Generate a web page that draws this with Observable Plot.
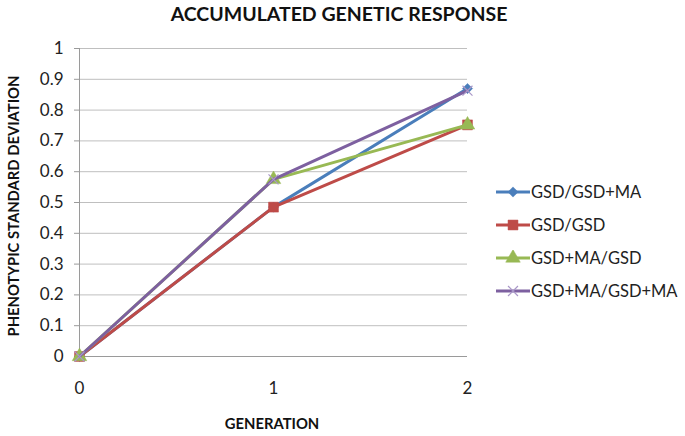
<!DOCTYPE html>
<html><head><meta charset="utf-8">
<script src="https://cdn.jsdelivr.net/npm/d3@7"></script>
<script src="https://cdn.jsdelivr.net/npm/@observablehq/plot@0.6"></script>
<style>
body{margin:0;background:#fff;font-family:Lato,"Open Sans",sans-serif;}
#wrap{position:relative;width:685px;height:436px;overflow:hidden;}
#chart{position:absolute;left:0;top:0;}
#chart svg text{font-size:17px;}
.title{position:absolute;left:0;width:678px;top:2px;text-align:center;font-weight:bold;font-size:19.5px;color:#111;}
.ylab{position:absolute;left:13px;top:206px;transform:translate(-50%,-50%) rotate(-90deg);white-space:nowrap;font-weight:bold;font-size:14.8px;color:#111;}
.xlab{position:absolute;left:272px;top:423px;transform:translate(-50%,-50%);white-space:nowrap;font-weight:bold;font-size:14.8px;color:#111;}
.legend{position:absolute;left:494px;top:0;}
.legend .row{position:absolute;left:0;display:flex;align-items:center;white-space:nowrap;font-size:16.5px;color:#222;transform:translateY(-50%);}
.legend svg{display:block;margin-right:1px;}
</style></head><body>
<div id="wrap">
  <div id="chart"></div>
  <div class="title">ACCUMULATED GENETIC RESPONSE</div>
  <div class="ylab">PHENOTYPIC STANDARD DEVIATION</div>
  <div class="xlab">GENERATION</div>
  <div class="legend" id="legend"></div>
</div>
<script>
// ---- data ----
const generations = [0, 1, 2];
const seriesNames = ["GSD/GSD+MA", "GSD/GSD", "GSD+MA/GSD", "GSD+MA/GSD+MA"];
const gsdGsdMa   = [0, 0.485, 0.870];
const gsdGsd     = [0, 0.485, 0.752];
const gsdMaGsd   = [0, 0.575, 0.752];
const gsdMaGsdMa = [0, 0.575, 0.863];
const yTicks = [0, 0.1, 0.2, 0.3, 0.4, 0.5, 0.6, 0.7, 0.8, 0.9, 1];
const xTicks = [0, 1, 2];

// ---- styles ----
const lineColors   = ["#4A7EBB", "#BE4B48", "#98B954", "#7D60A0"];
const markerFill   = ["#4A7EBB", "#BE4B48", "#98B954", "none"];
const markerStroke = ["#4A7EBB", "#BE4B48", "#98B954", "#A997C8"];
const symbols      = ["diamond2", "square", "triangle", "times"];
const radii        = [4.6, 5.6, 5.4, 4.6];

const valuesBySeries = [gsdGsdMa, gsdGsd, gsdMaGsd, gsdMaGsdMa];
const series = seriesNames.map((name, i) =>
  generations.map((g, j) => ({series: name, generation: g, value: valuesBySeries[i][j]})));

const marks = [
  Plot.gridY(yTicks, {stroke: "#bfbfbf", strokeOpacity: 1}),
  Plot.ruleX([0], {stroke: "#9a9a9a"}),
  Plot.ruleY([0], {stroke: "#9a9a9a"}),
  Plot.axisY(yTicks, {tickSize: 5, tickPadding: 11, stroke: "#9a9a9a", fill: "#222", tickFormat: d => String(d), label: null}),
  Plot.axisX(xTicks, {tickSize: 0, tickPadding: 25, fill: "#222", tickFormat: d => String(d), label: null})
];
series.forEach((data, i) => {
  marks.push(Plot.line(data, {x: "generation", y: "value", stroke: lineColors[i], strokeWidth: 3}));
  marks.push(Plot.dot(data, {x: "generation", y: "value", symbol: symbols[i], r: radii[i],
    fill: markerFill[i], stroke: markerStroke[i], strokeWidth: i === 3 ? 1.2 : 0.5}));
});

const chart = Plot.plot({
  width: 685, height: 436,
  marginLeft: 79, marginRight: 218, marginTop: 48, marginBottom: 80,
  style: {fontFamily: "Lato, 'Open Sans', sans-serif", fontSize: "17px", background: "#fff"},
  x: {domain: [0, 2]},
  y: {domain: [0, 1]},
  marks
});
document.getElementById("chart").appendChild(chart);

// ---- legend ----
const legendY = [192, 225, 258, 291];
const leg = document.getElementById("legend");
seriesNames.forEach((name, i) => {
  const row = document.createElement("div");
  row.className = "row";
  row.style.top = legendY[i] + "px";
  const ns = "http://www.w3.org/2000/svg";
  const svg = document.createElementNS(ns, "svg");
  svg.setAttribute("width", 36); svg.setAttribute("height", 16);
  const ln = document.createElementNS(ns, "line");
  ln.setAttribute("x1", 2); ln.setAttribute("x2", 36); ln.setAttribute("y1", 8); ln.setAttribute("y2", 8);
  ln.setAttribute("stroke", lineColors[i]); ln.setAttribute("stroke-width", 3);
  svg.appendChild(ln);
  const symMap = {diamond2: d3.symbolDiamond2, square: d3.symbolSquare, triangle: d3.symbolTriangle, times: d3.symbolTimes};
  const p = document.createElementNS(ns, "path");
  p.setAttribute("d", d3.symbol(symMap[symbols[i]], Math.PI * radii[i] * radii[i])());
  p.setAttribute("transform", "translate(19,8)");
  p.setAttribute("fill", markerFill[i]); p.setAttribute("stroke", markerStroke[i]);
  p.setAttribute("stroke-width", i === 3 ? 1.2 : 0.5);
  svg.appendChild(p);
  row.appendChild(svg);
  const t = document.createElement("span");
  t.textContent = name;
  row.appendChild(t);
  leg.appendChild(row);
});
</script>
</body></html>
